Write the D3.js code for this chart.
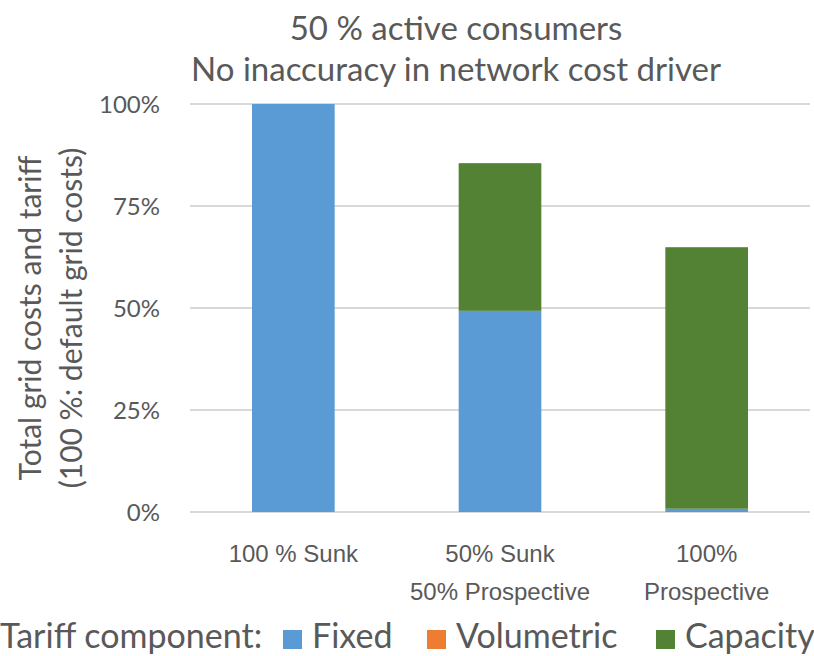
<!DOCTYPE html>
<html>
<head>
<meta charset="utf-8">
<script src="https://cdn.jsdelivr.net/npm/d3@7"></script>
<style>
  html, body { margin: 0; padding: 0; background: #fff; }
  svg { display: block; font-family: Lato, "Noto Sans", sans-serif; }
</style>
</head>
<body>
<svg id="chart" width="814" height="656"></svg>
<script>
// Scenario categories (two-line labels)
const categories = ["100 % Sunk", "50% Sunk\n50% Prospective", "100%\nProspective"];
// Tariff components, stacked bottom to top
const seriesNames = ["Fixed", "Volumetric", "Capacity"];
const fixedValues = [1.00, 0.493, 0.008];
const volumetricValues = [0, 0, 0];
const capacityValues = [0, 0.362, 0.641];
const yTicks = [0, 0.25, 0.5, 0.75, 1];
const colors = ["#5B9BD5", "#ED7D31", "#548235"];

const svg = d3.select("#chart");
const textColor = "#595959";
const margin = { left: 190, right: 4, top: 104, bottom: 144 };
const W = 814, H = 656;

const rows = categories.map((c, i) => ({
  category: c,
  Fixed: fixedValues[i],
  Volumetric: volumetricValues[i],
  Capacity: capacityValues[i]
}));

const x = d3.scaleBand()
  .domain(categories)
  .range([margin.left, W - margin.right])
  .paddingInner(0.6)
  .paddingOuter(0.3);

const y = d3.scaleLinear()
  .domain([0, 1])
  .range([H - margin.bottom, margin.top]);

// Gridlines
svg.append("g")
  .selectAll("line")
  .data(yTicks)
  .join("line")
  .attr("x1", margin.left)
  .attr("x2", W - margin.right)
  .attr("y1", d => y(d))
  .attr("y2", d => y(d))
  .attr("stroke", "#D9D9D9")
  .attr("stroke-width", 2);

// Stacked bars
const stack = d3.stack().keys(seriesNames);
const layers = stack(rows);
svg.append("g")
  .selectAll("g")
  .data(layers)
  .join("g")
  .attr("fill", (d, i) => colors[i])
  .selectAll("rect")
  .data(d => d)
  .join("rect")
  .attr("x", d => x(d.data.category))
  .attr("width", x.bandwidth())
  .attr("y", d => y(d[1]))
  .attr("height", d => y(d[0]) - y(d[1]));

// Y axis tick labels
const yAxis = d3.axisLeft(y)
  .tickValues(yTicks)
  .tickFormat(d3.format(".0%"))
  .tickSize(0)
  .tickPadding(0);
const yg = svg.append("g")
  .attr("transform", `translate(${margin.left - 30},0)`)
  .call(yAxis);
yg.select(".domain").remove();
yg.selectAll("text")
  .attr("fill", textColor)
  .attr("dy", "0.36em")
  .style("font-size", "24px")
  .style("font-family", "Lato, 'Noto Sans', sans-serif");

// X axis category labels
const xAxis = d3.axisBottom(x).tickSize(0).tickFormat("");
const xg = svg.append("g")
  .attr("transform", `translate(0,${H - margin.bottom})`)
  .call(xAxis);
xg.select(".domain").remove();
xg.selectAll(".tick")
  .append("text")
  .attr("fill", textColor)
  .attr("text-anchor", "middle")
  .style("font-size", "24px")
  .selectAll("tspan")
  .data(d => d.split("\n"))
  .join("tspan")
  .attr("x", 0)
  .attr("y", (d, i) => 50 + i * 38)
  .text(d => d);

// Title
const title = svg.append("text")
  .attr("text-anchor", "middle")
  .attr("fill", textColor)
  .style("font-size", "33px");
["50 % active consumers", "No inaccuracy in network cost driver"].forEach((t, i) => {
  title.append("tspan").attr("x", 456).attr("y", 40 + i * 41).text(t);
});

// Y axis title
const yTitle = svg.append("text")
  .attr("transform", "translate(0,318) rotate(-90)")
  .attr("text-anchor", "middle")
  .attr("fill", textColor)
  .style("font-size", "30px");
["Total grid costs and tariff", "(100 %: default grid costs)"].forEach((t, i) => {
  yTitle.append("tspan").attr("x", 0).attr("y", 41 + i * 41).text(t);
});

// Legend
const legend = svg.append("g").attr("transform", "translate(0,648)");
const legendFont = "34px";
legend.append("text")
  .attr("x", 0)
  .attr("y", 0)
  .attr("fill", textColor)
  .style("font-size", legendFont)
  .text("Tariff component:");
const swatchX = [283, 427, 656];
seriesNames.forEach((name, i) => {
  legend.append("rect")
    .attr("x", swatchX[i]).attr("y", -18)
    .attr("width", 19).attr("height", 19)
    .attr("fill", colors[i]);
  legend.append("text")
    .attr("x", swatchX[i] + 29).attr("y", 0)
    .attr("fill", textColor)
    .style("font-size", legendFont)
    .text(name);
});
</script>
</body>
</html>
